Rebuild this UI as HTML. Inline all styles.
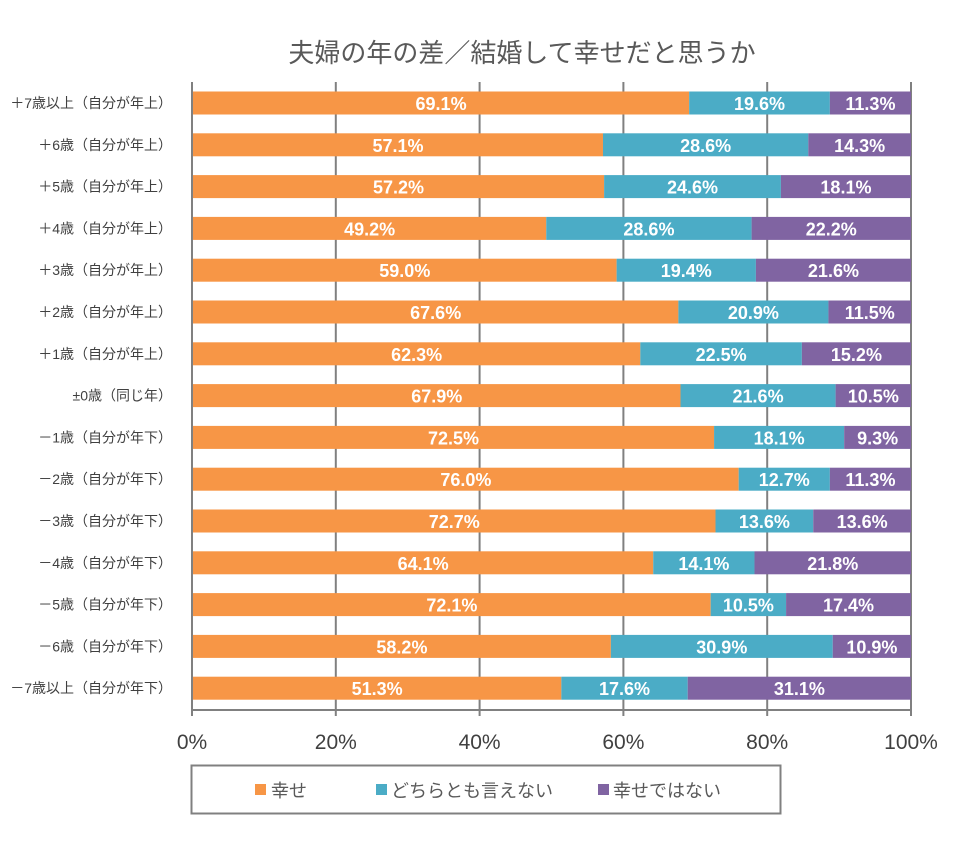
<!DOCTYPE html>
<html><head><meta charset="utf-8"><style>
body{margin:0;background:#fff;}
svg text{font-family:"Liberation Sans","Noto Sans CJK JP",sans-serif;}
</style></head><body>
<svg width="965" height="840" xmlns="http://www.w3.org/2000/svg">
<rect width="965" height="840" fill="#fff"/>
<text x="522" y="62" font-size="26" fill="#595959" text-anchor="middle">夫婦の年の差／結婚して幸せだと思うか</text>
<g stroke="#808080" stroke-width="2">
<line x1="192" y1="82" x2="192" y2="716"/>
<line x1="335.8" y1="82" x2="335.8" y2="716"/>
<line x1="479.6" y1="82" x2="479.6" y2="716"/>
<line x1="623.4" y1="82" x2="623.4" y2="716"/>
<line x1="767.2" y1="82" x2="767.2" y2="716"/>
<line x1="911" y1="82" x2="911" y2="716"/>
<line x1="192" y1="710" x2="911" y2="710"/>
</g>
<g id="bars"></g>
<g font-size="21" fill="#404040" text-anchor="middle">
<text x="192" y="749">0%</text><text x="335.8" y="749">20%</text><text x="479.6" y="749">40%</text><text x="623.4" y="749">60%</text><text x="767.2" y="749">80%</text><text x="911" y="749">100%</text>
</g>
<rect x="191.5" y="765.5" width="589" height="48" fill="none" stroke="#808080" stroke-width="2"/>
<rect x="255" y="784" width="11" height="11" fill="#F79646"/>
<text x="271" y="797" font-size="18" fill="#595959">幸せ</text>
<rect x="376" y="784" width="11" height="11" fill="#4BACC6"/>
<text x="391" y="797" font-size="18" fill="#595959">どちらとも言えない</text>
<rect x="598" y="784" width="11" height="11" fill="#8064A2"/>
<text x="613" y="797" font-size="18" fill="#595959">幸せではない</text>
</svg>
<script>
const rows=[["＋7歳以上（自分が年上）",69.1,19.6,11.3],["＋6歳（自分が年上）",57.1,28.6,14.3],["＋5歳（自分が年上）",57.2,24.6,18.1],["＋4歳（自分が年上）",49.2,28.6,22.2],["＋3歳（自分が年上）",59.0,19.4,21.6],["＋2歳（自分が年上）",67.6,20.9,11.5],["＋1歳（自分が年上）",62.3,22.5,15.2],["±0歳（同じ年）",67.9,21.6,10.5],["－1歳（自分が年下）",72.5,18.1,9.3],["－2歳（自分が年下）",76.0,12.7,11.3],["－3歳（自分が年下）",72.7,13.6,13.6],["－4歳（自分が年下）",64.1,14.1,21.8],["－5歳（自分が年下）",72.1,10.5,17.4],["－6歳（自分が年下）",58.2,30.9,10.9],["－7歳以上（自分が年下）",51.3,17.6,31.1]];
const cols=["#F79646","#4BACC6","#8064A2"];
let s="";const x0=193,W=718;
rows.forEach((r,i)=>{const cy=103+i*41.8;let x=x0;
s+=`<text x="172" y="${cy+5}" font-size="14" fill="#404040" text-anchor="end">${r[0]}</text>`;
const tot=r[1]+r[2]+r[3];
for(let k=0;k<3;k++){let w=r[k+1]/tot*W;if(k==2)w=911-x;
s+=`<rect x="${x}" y="${cy-11.5}" width="${w}" height="23" fill="${cols[k]}"/>`;
s+=`<text x="${x+w/2}" y="${cy+7}" font-size="18" font-weight="bold" fill="#fff" text-anchor="middle">${r[k+1].toFixed(1)}%</text>`;x+=w;}
});
document.getElementById("bars").innerHTML=s;
</script>
</body></html>
